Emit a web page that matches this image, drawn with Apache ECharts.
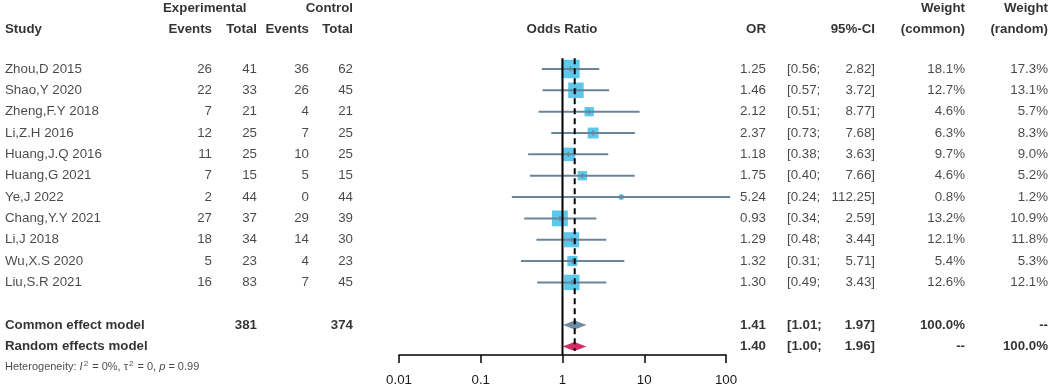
<!DOCTYPE html>
<html>
<head>
<meta charset="utf-8">
<script src="https://cdn.jsdelivr.net/npm/echarts@6/dist/echarts.min.js"></script>
<style>
  html, body { margin: 0; padding: 0; background: #fff; }
  #chart { width: 1052px; height: 389px; }
</style>
</head>
<body>
<div id="chart"></div>
<script>
// 数据
const studies = ['Zhou,D 2015', 'Shao,Y 2020', 'Zheng,F.Y 2018', 'Li,Z.H 2016', 'Huang,J.Q 2016',
  'Huang,G 2021', 'Ye,J 2022', 'Chang,Y.Y 2021', 'Li,J 2018', 'Wu,X.S 2020', 'Liu,S.R 2021'];
const expEvents = [26, 22, 7, 12, 11, 7, 2, 27, 18, 5, 16];
const expTotal = [41, 33, 21, 25, 25, 15, 44, 37, 34, 23, 83];
const ctrlEvents = [36, 26, 4, 7, 10, 5, 0, 29, 14, 4, 7];
const ctrlTotal = [62, 45, 21, 25, 25, 15, 44, 39, 30, 23, 45];
const oddsRatio = [1.25, 1.46, 2.12, 2.37, 1.18, 1.75, 5.24, 0.93, 1.29, 1.32, 1.30];
const ciLower = [0.56, 0.57, 0.51, 0.73, 0.38, 0.40, 0.24, 0.34, 0.48, 0.31, 0.49];
const ciUpper = [2.82, 3.72, 8.77, 7.68, 3.63, 7.66, 112.25, 2.59, 3.44, 5.71, 3.43];
const weightCommon = [18.1, 12.7, 4.6, 6.3, 9.7, 4.6, 0.8, 13.2, 12.1, 5.4, 12.6];
const weightRandom = [17.3, 13.1, 5.7, 8.3, 9.0, 5.2, 1.2, 10.9, 11.8, 5.3, 12.1];

const models = ['Common effect model', 'Random effects model'];
const modelOR = [1.41, 1.40];
const modelLower = [1.01, 1.00];
const modelUpper = [1.97, 1.96];
const modelWeightCommon = ['100.0%', '--'];
const modelWeightRandom = ['--', '100.0%'];
const summaryTotals = [381, 374];
const xTicks = [0.01, 0.1, 1, 10, 100];
const heterogeneity = { i2: '0%', tau2: '0', p: '0.99' };

// 行位置
const studyRows = studies.map((_, i) => i);
const modelRows = [12, 13];
const header1Row = -2.85, header2Row = -1.87, hetRow = 13.96;

// 列位置 (像素)
const col = { study: 5, expEv: 212, expTot: 257, ctrlEv: 309, ctrlTot: 353, or: 766, ciL: 787, ciR: 875, wc: 965, wr: 1048, forest: 562 };

const yMin = -0.5, yMax = 13.4;
const textColor = '#1a1a1a';
const fontFamily = 'Liberation Sans, Arial, sans-serif';

var chart = echarts.init(document.getElementById('chart'));

function textSeries(x, rows, texts, align, bold, size) {
  return {
    type: 'scatter',
    xAxisIndex: 1, yAxisIndex: 1,
    symbolSize: 1,
    clip: false,
    silent: true,
    itemStyle: { color: 'rgba(0,0,0,0)' },
    data: rows.map((r, i) => ({ value: [x, r], name: String(texts[i]) })),
    label: {
      show: true,
      position: 'inside',
      align: align,
      verticalAlign: 'middle',
      formatter: p => p.name,
      color: bold ? '#000' : textColor,
      fontWeight: bold ? 'bold' : 'normal',
      fontSize: size || 13.3,
      fontFamily: fontFamily
    }
  };
}

const fmt = v => v.toFixed(2);
const studyData = oddsRatio.map((v, i) => [v, i, ciLower[i], ciUpper[i], weightCommon[i]]);
const modelData = modelOR.map((v, i) => [v, modelRows[i], modelLower[i], modelUpper[i], i]);

const series = [
  // 竖线 OR = 1
  {
    type: 'line', xAxisIndex: 0, yAxisIndex: 0, symbol: 'none', silent: true,
    data: [[1, yMin], [1, yMax]],
    lineStyle: { color: '#000', width: 2 }
  },
  // 共同效应虚线
  {
    type: 'line', xAxisIndex: 0, yAxisIndex: 0, symbol: 'none', silent: true,
    data: [[modelOR[0], yMin], [modelOR[0], 13.2]],
    lineStyle: { color: '#000', width: 2, type: [6, 4] }
  },
  {
    type: 'custom', xAxisIndex: 0, yAxisIndex: 0, silent: true,
    data: studyData,
    renderItem: function (params, api) {
      const c = api.coord([api.value(0), api.value(1)]);
      const l = api.coord([api.value(2), api.value(1)]);
      const h = api.coord([api.value(3), api.value(1)]);
      const s = Math.max(5, 4.35 * Math.sqrt(api.value(4)));
      return {
        type: 'group',
        children: [
          { type: 'rect', shape: { x: c[0] - s / 2, y: c[1] - s / 2, width: s, height: s }, style: { fill: '#5bc8ec' } },
          { type: 'line', shape: { x1: l[0], y1: c[1], x2: h[0], y2: c[1] }, style: { stroke: '#6a8599', lineWidth: 2 } },
          { type: 'line', shape: { x1: c[0], y1: c[1] - 2.5, x2: c[0], y2: c[1] + 2.5 }, style: { stroke: '#6a8599', lineWidth: 1.5 } }
        ]
      };
    }
  },
  {
    type: 'custom', xAxisIndex: 0, yAxisIndex: 0, silent: true,
    data: modelData,
    renderItem: function (params, api) {
      const c = api.coord([api.value(0), api.value(1)]);
      const l = api.coord([api.value(2), api.value(1)]);
      const h = api.coord([api.value(3), api.value(1)]);
      const hh = 4.5;
      return {
        type: 'polygon',
        shape: { points: [[l[0], c[1]], [c[0], c[1] - hh], [h[0], c[1]], [c[0], c[1] + hh]] },
        style: { fill: api.value(4) === 0 ? '#6f8ca3' : '#d12f63' }
      };
    }
  },
  // 表头
  textSeries(163, [header1Row], ['Experimental'], 'left', true),
  textSeries(col.ctrlTot, [header1Row], ['Control'], 'right', true),
  textSeries(col.wc, [header1Row], ['Weight'], 'right', true),
  textSeries(col.wr, [header1Row], ['Weight'], 'right', true),
  textSeries(col.study, [header2Row], ['Study'], 'left', true),
  textSeries(col.expEv, [header2Row], ['Events'], 'right', true),
  textSeries(col.expTot, [header2Row], ['Total'], 'right', true),
  textSeries(col.ctrlEv, [header2Row], ['Events'], 'right', true),
  textSeries(col.ctrlTot, [header2Row], ['Total'], 'right', true),
  textSeries(col.forest, [header2Row], ['Odds Ratio'], 'center', true),
  textSeries(col.or, [header2Row], ['OR'], 'right', true),
  textSeries(col.ciR, [header2Row], ['95%-CI'], 'right', true),
  textSeries(col.wc, [header2Row], ['(common)'], 'right', true),
  textSeries(col.wr, [header2Row], ['(random)'], 'right', true),
  // 研究行
  textSeries(col.study, studyRows, studies, 'left'),
  textSeries(col.expEv, studyRows, expEvents, 'right'),
  textSeries(col.expTot, studyRows, expTotal, 'right'),
  textSeries(col.ctrlEv, studyRows, ctrlEvents, 'right'),
  textSeries(col.ctrlTot, studyRows, ctrlTotal, 'right'),
  textSeries(col.or, studyRows, oddsRatio.map(fmt), 'right'),
  textSeries(col.ciL, studyRows, ciLower.map(v => '[' + fmt(v) + ';'), 'left'),
  textSeries(col.ciR, studyRows, ciUpper.map(v => fmt(v) + ']'), 'right'),
  textSeries(col.wc, studyRows, weightCommon.map(v => v.toFixed(1) + '%'), 'right'),
  textSeries(col.wr, studyRows, weightRandom.map(v => v.toFixed(1) + '%'), 'right'),
  // 合并模型
  textSeries(col.study, modelRows, models, 'left', true),
  textSeries(col.expTot, [modelRows[0]], [summaryTotals[0]], 'right', true),
  textSeries(col.ctrlTot, [modelRows[0]], [summaryTotals[1]], 'right', true),
  textSeries(col.or, modelRows, modelOR.map(fmt), 'right', true),
  textSeries(col.ciL, modelRows, modelLower.map(v => '[' + fmt(v) + ';'), 'left', true),
  textSeries(col.ciR, modelRows, modelUpper.map(v => fmt(v) + ']'), 'right', true),
  textSeries(col.wc, modelRows, modelWeightCommon, 'right', true),
  textSeries(col.wr, modelRows, modelWeightRandom, 'right', true),
  // 异质性
  {
    type: 'scatter', xAxisIndex: 1, yAxisIndex: 1, symbolSize: 1, clip: false, silent: true,
    itemStyle: { color: 'rgba(0,0,0,0)' },
    data: [[col.study, hetRow]],
    label: {
      show: true, position: 'inside', align: 'left', verticalAlign: 'middle',
      fontFamily: fontFamily, fontSize: 11, color: textColor,
      formatter: 'Heterogeneity: {it|I}{sup|2} = ' + heterogeneity.i2 + ', τ{sup|2} = ' + heterogeneity.tau2 +
        ', {it|p} = ' + heterogeneity.p,
      rich: {
        it: { fontStyle: 'italic', fontSize: 11, fontFamily: fontFamily, color: textColor },
        sup: { fontSize: 8, fontFamily: fontFamily, color: textColor, verticalAlign: 'top', lineHeight: 14, padding: [0, 1, 6, 1] }
      }
    }
  }
];

let option = {
  animation: false,
  backgroundColor: '#fff',
  grid: [
    { left: 399, right: 326, top: 58.3, bottom: 34 },
    { left: 0, right: 0, top: 58.3, bottom: 34 }
  ],
  xAxis: [
    {
      type: 'log', logBase: 10, gridIndex: 0, min: xTicks[0], max: xTicks[xTicks.length - 1],
      position: 'bottom',
      axisLine: { onZero: false, lineStyle: { color: '#000', width: 1.5 } },
      axisTick: { show: true, length: 8, lineStyle: { color: '#000', width: 1.5 } },
      minorTick: { show: false },
      splitLine: { show: false },
      axisLabel: {
        margin: 19, color: textColor, fontSize: 13.3, fontFamily: fontFamily,
        showMinLabel: true, showMaxLabel: true,
        formatter: v => String(xTicks.find(t => Math.abs(t - v) / t < 1e-6) ?? v)
      }
    },
    { type: 'value', gridIndex: 1, min: 0, max: 1052, show: false }
  ],
  yAxis: [
    { type: 'value', gridIndex: 0, min: yMin, max: yMax, inverse: true, show: false },
    { type: 'value', gridIndex: 1, min: yMin, max: yMax, inverse: true, show: false }
  ],
  series: series
};

chart.setOption(option);

window.addEventListener('resize', function () {
  chart.resize();
});
</script>
</body>
</html>
